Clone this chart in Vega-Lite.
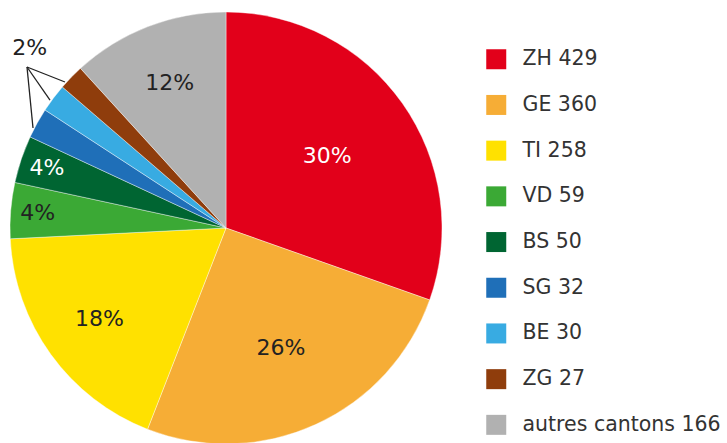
{
  "$schema": "https://vega.github.io/schema/vega-lite/v6.json",
  "width": 452,
  "height": 456,
  "autosize": {"type": "none"},
  "padding": {"left": 0, "top": 0, "right": 275, "bottom": 0},
  "background": "white",
  "config": {"view": {"stroke": null}, "font": "DejaVu Sans"},
  "data": {"values": [
    {"i": 1, "canton": "ZH", "label": "ZH 429", "n": 429, "pct": "30%"},
    {"i": 2, "canton": "GE", "label": "GE 360", "n": 360, "pct": "26%"},
    {"i": 3, "canton": "TI", "label": "TI 258", "n": 258, "pct": "18%"},
    {"i": 4, "canton": "VD", "label": "VD 59", "n": 59, "pct": "4%"},
    {"i": 5, "canton": "BS", "label": "BS 50", "n": 50, "pct": "4%"},
    {"i": 6, "canton": "SG", "label": "SG 32", "n": 32, "pct": ""},
    {"i": 7, "canton": "BE", "label": "BE 30", "n": 30, "pct": ""},
    {"i": 8, "canton": "ZG", "label": "ZG 27", "n": 27, "pct": ""},
    {"i": 9, "canton": "autres", "label": "autres cantons 166", "n": 166, "pct": "12%"}
  ]},
  "layer": [
    {
      "mark": {"type": "arc", "outerRadius": 216, "stroke": "white", "strokeWidth": 0.4},
      "encoding": {
        "theta": {"field": "n", "type": "quantitative", "stack": true},
        "order": {"field": "i", "type": "quantitative"},
        "color": {
          "field": "label", "type": "nominal",
          "scale": {
            "domain": ["ZH 429", "GE 360", "TI 258", "VD 59", "BS 50", "SG 32", "BE 30", "ZG 27", "autres cantons 166"],
            "range": ["#e2001a", "#f6ad36", "#ffe100", "#3ba935", "#006532", "#1f6fb8", "#38abe2", "#8f3d0c", "#b1b1b1"]
          },
          "legend": {
            "title": null, "orient": "none", "legendX": 486, "legendY": 49,
            "symbolType": "square", "symbolSize": 400, "symbolStrokeWidth": 0,
            "labelFontSize": 20.5, "labelFont": "DejaVu Sans", "labelColor": "#333333",
            "rowPadding": 24.7, "labelOffset": 16, "padding": 0, "labelLimit": 300
          }
        }
      }
    },
    {
      "mark": {"type": "text", "radius": 124, "fontSize": 22, "font": "DejaVu Sans", "align": "center", "baseline": "middle"},
      "encoding": {
        "theta": {"field": "n", "type": "quantitative", "stack": true},
        "order": {"field": "i", "type": "quantitative"},
        "text": {"condition": {"test": "datum.canton === 'ZH'", "field": "pct"}, "value": ""},
        "color": {"value": "white"}
      }
    },
    {
      "mark": {"type": "text", "radius": 132, "fontSize": 22, "font": "DejaVu Sans", "align": "center", "baseline": "middle"},
      "encoding": {
        "theta": {"field": "n", "type": "quantitative", "stack": true},
        "order": {"field": "i", "type": "quantitative"},
        "text": {"condition": {"test": "datum.canton === 'GE'", "field": "pct"}, "value": ""},
        "color": {"value": "#222222"}
      }
    },
    {
      "mark": {"type": "text", "radius": 156, "fontSize": 22, "font": "DejaVu Sans", "align": "center", "baseline": "middle"},
      "encoding": {
        "theta": {"field": "n", "type": "quantitative", "stack": true},
        "order": {"field": "i", "type": "quantitative"},
        "text": {"condition": {"test": "datum.canton === 'TI' || datum.canton === 'autres'", "field": "pct"}, "value": ""},
        "color": {"value": "#222222"}
      }
    },
    {
      "mark": {"type": "text", "radius": 189, "fontSize": 22, "font": "DejaVu Sans", "align": "center", "baseline": "middle"},
      "encoding": {
        "theta": {"field": "n", "type": "quantitative", "stack": true},
        "order": {"field": "i", "type": "quantitative"},
        "text": {"condition": {"test": "datum.canton === 'VD' || datum.canton === 'BS'", "field": "pct"}, "value": ""},
        "color": {"condition": {"test": "datum.canton === 'BS'", "value": "white"}, "value": "#222222"}
      }
    },
    {
      "data": {"values": [
        {"x": -0.9213, "y": 0.7454, "x2": -0.7454, "y2": 0.6759},
        {"x": -0.9213, "y": 0.7454, "x2": -0.8148, "y2": 0.5926},
        {"x": -0.9213, "y": 0.7454, "x2": -0.8935, "y2": 0.4630}
      ]},
      "mark": {"type": "rule", "color": "#222222", "strokeWidth": 1.3},
      "encoding": {
        "x": {"field": "x", "type": "quantitative", "axis": null, "scale": {"domain": [-1.0463, 1.0463], "nice": false, "zero": false}},
        "y": {"field": "y", "type": "quantitative", "axis": null, "scale": {"domain": [-1.0556, 1.0556], "nice": false, "zero": false}},
        "x2": {"field": "x2"},
        "y2": {"field": "y2"}
      }
    },
    {
      "data": {"values": [{"x": -0.9088, "y": 0.8319, "t": "2%"}]},
      "mark": {"type": "text", "fontSize": 22, "font": "DejaVu Sans", "align": "center", "baseline": "middle", "color": "#222222"},
      "encoding": {
        "x": {"field": "x", "type": "quantitative", "axis": null, "scale": {"domain": [-1.0463, 1.0463], "nice": false, "zero": false}},
        "y": {"field": "y", "type": "quantitative", "axis": null, "scale": {"domain": [-1.0556, 1.0556], "nice": false, "zero": false}},
        "text": {"field": "t"}
      }
    }
  ]
}
